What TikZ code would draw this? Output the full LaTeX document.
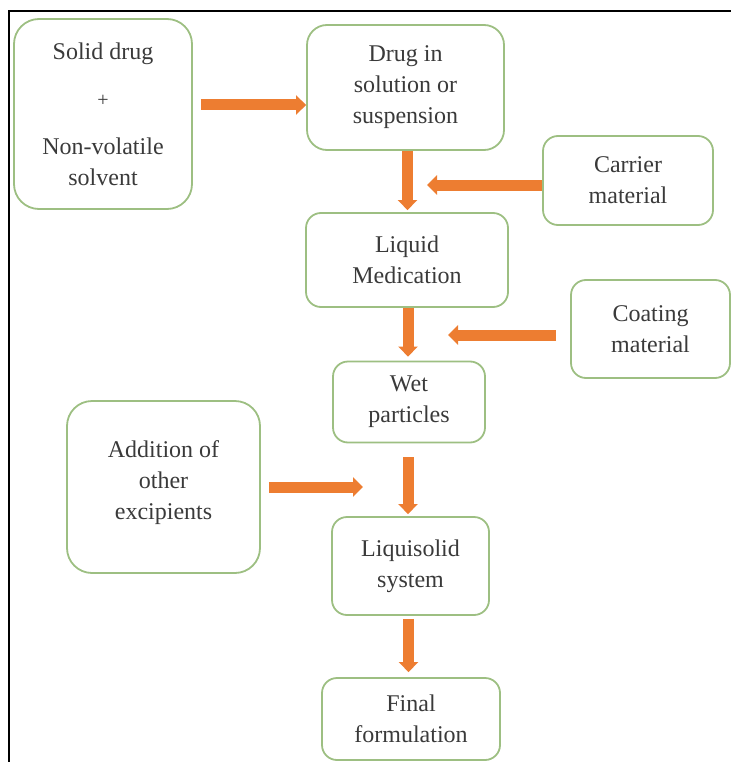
\documentclass[tikz,border=0pt]{standalone}
\usepackage{fontspec}
\setmainfont{Liberation Serif}
\usepackage{xcolor}
\usetikzlibrary{arrows.meta,positioning}
\definecolor{boxgreen}{HTML}{9DBF82}
\definecolor{flowora}{HTML}{ED7D31}
\definecolor{txtgray}{HTML}{3A3A3A}
\begin{document}
\begin{tikzpicture}[x=1pt,y=-1pt,
  box/.style={draw=boxgreen, line width=1.8pt, rounded corners=15pt, inner sep=0pt, align=center,
    text=txtgray, font=\fontsize{24}{31}\selectfont},
  flow/.style={draw=flowora, line width=11pt, -{Triangle[width=19pt,length=10pt]}}]
\useasboundingbox (0,0) rectangle (731,762);
% frame
\draw[line width=2.5pt] (9,762) -- (9,11) -- (731,11);
% boxes
\node[box, rounded corners=25pt, minimum width=178pt, minimum height=190pt] (drug) at (103,114)
  {Solid drug\\[16pt] {\fontsize{20}{20}\selectfont +}\\[17pt] Non-volatile\\ solvent};
\node[box, rounded corners=20pt, minimum width=197pt, minimum height=125pt] (sol) at (405.5,87.5)
  {Drug in\\ solution or\\ suspension};
\node[box, minimum width=170pt, minimum height=89pt] (carrier) at (628,180.5) {Carrier\\ material};
\node[box, minimum width=202pt, minimum height=94pt] (liq) at (407,260) {Liquid\\ Medication};
\node[box, minimum width=159pt, minimum height=98pt] (coat) at (650.5,329) {Coating\\ material};
\node[box, minimum width=152pt, minimum height=81pt] (wet) at (409,402) {Wet\\ particles};
\node[box, rounded corners=25pt, minimum width=193pt, minimum height=172pt] (excip) at (163.5,487)
  {Addition of\\ other\\ excipients\\[-18pt]};
\node[box, minimum width=157pt, minimum height=98pt] (lsys) at (410.5,566) {Liquisolid\\ system};
\node[box, minimum width=178pt, minimum height=82pt] (final) at (411,719) {Final\\ formulation};
% side inputs
\coordinate (carrierIn) at (427,185);
\coordinate (coatIn) at (448,335);
\coordinate (excipIn) at (363,487);
% arrows
\draw[flow, shorten <=8pt] ([yshift=9pt]drug.east) -- ([yshift=9pt]drug.east -| sol.west);
\draw[flow, shorten >=2pt] ([xshift=2pt]sol.south) -- ([xshift=2pt]sol.south |- liq.north);
\draw[flow] ([yshift=-4.5pt]carrier.west) -- (carrierIn);
\draw[flow, shorten >=4pt] ([xshift=1pt]liq.south) -- ([xshift=1pt]liq.south |- wet.north);
\draw[flow, shorten <=14pt] ([yshift=-6pt]coat.west) -- (coatIn);
\draw[flow, shorten <=8pt] (excip.east) -- (excipIn);
\draw[flow, shorten <=14pt, shorten >=2pt] ([xshift=-1pt]wet.south) -- ([xshift=-1pt]wet.south |- lsys.north);
\draw[flow, shorten <=3pt, shorten >=5pt] ([xshift=-2pt]lsys.south) -- ([xshift=-2pt]lsys.south |- final.north);
\end{tikzpicture}
\end{document}
